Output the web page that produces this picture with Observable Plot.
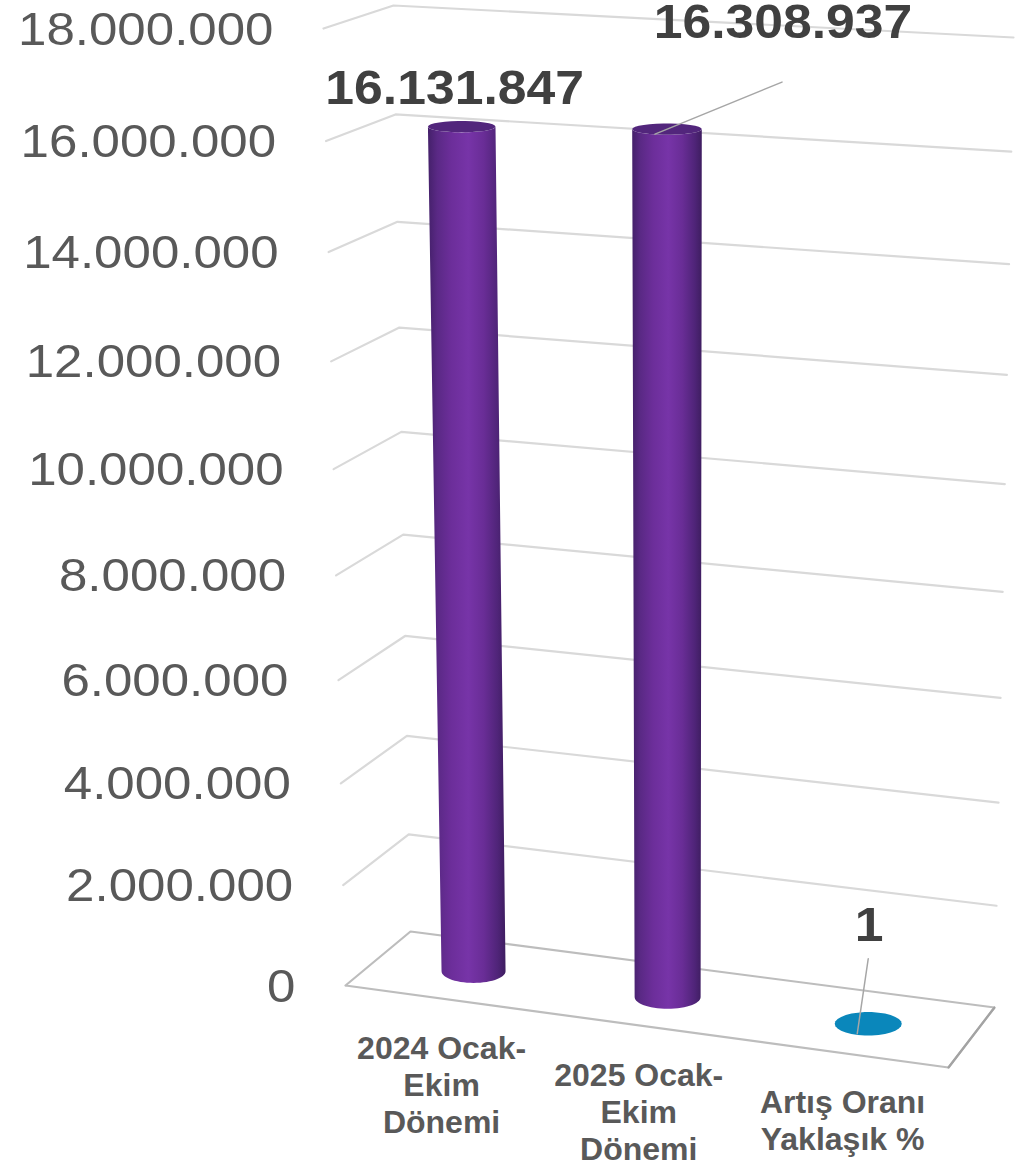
<!DOCTYPE html>
<html>
<head>
<meta charset="utf-8">
<script src="https://cdn.jsdelivr.net/npm/d3@7"></script>
<script src="https://cdn.jsdelivr.net/npm/@observablehq/plot@0.6"></script>
<style>
html,body{margin:0;padding:0;background:#fff}
svg{display:block}
</style>
</head>
<body>
<div id="chart"></div>
<script>
// --- data ---
const categories = ["2024 Ocak-\nEkim\nDönemi", "2025 Ocak-\nEkim\nDönemi", "Artış Oranı\nYaklaşık %"];
const values = [16131847, 16308937, 1];
const tickValues = [0, 2000000, 4000000, 6000000, 8000000, 10000000, 12000000, 14000000, 16000000, 18000000];

// --- layout of the tilted 3D box (pixel corners at value 0 and at the axis maximum) ---
const W = 1024, H = 1163, maxValue = 18000000, persp = 0.9375;
const floor = {fl: [345, 985], bl: [410, 931], br: [994, 1007], fr: [948, 1067]};
const ceil  = {fl: [323, 28],  bl: [393, 5],   br: [1013, 37],  fr: [967, 62]};
const lerp = (a, b, k) => [a[0] + (b[0] - a[0]) * k, a[1] + (b[1] - a[1]) * k];
const plane = (c, u, d) => lerp(lerp(c.fl, c.fr, u), lerp(c.bl, c.br, u), d);
const lift = v => { const t = v / maxValue; return t * persp / (1 + t * (persp - 1)); };
const project = (u, d, v) => lerp(plane(floor, u, d), plane(ceil, u, d), lift(v));
const uOf = d3.scaleOrdinal(categories, [0.161, 0.488, 0.826]);

const fmt = d3.formatLocale({decimal: ",", thousands: ".", grouping: [3], currency: ["", ""]}).format(",d");

// gridlines
const gridRows = tickValues.flatMap(v => [[0, 0], [0, 1], [1, 1]].map(([u, d]) => {
  const [x, y] = project(u, d, v); return {v, x, y};
}));
const floorRing = [[0, 0], [0, 1], [1, 1], [1, 0], [0, 0]].map(([u, d]) => {
  const [x, y] = project(u, d, 0); return {x, y};
});
const floorRight = floorRing.slice(2, 4);

// cylinders
const rxBase = [32, 33, 33.5];
const ryAt = f => 11.7 - 6.7 * f;
const arc = (c, rx, ry, a0, a1) => d3.range(0, 31).map(i => {
  const a = (a0 + (a1 - a0) * i / 30) * Math.PI / 180;
  return {x: c[0] + rx * Math.cos(a), y: c[1] + ry * Math.sin(a)};
});
const cyl = categories.map((cat, i) => {
  const u = uOf(cat), base = project(u, 0.5, 0), top = project(u, 0.5, values[i]), f = lift(values[i]);
  const rxT = rxBase[i] + 2 * f;
  return {
    i, cat, value: values[i], base, top,
    body: [...arc(base, rxBase[i], ryAt(0), 180, 0), ...arc(top, rxT, ryAt(f), 0, 180)],
    cap: arc(top, rxT, ryAt(f), 0, 360)
  };
});
const columns = cyl.filter(c => c.value > 1000);
const flats = cyl.filter(c => c.value <= 1000);

// data labels and leader lines (placement offsets from the top of each column)
const labelOffset = [[-7, -23], [116, -91], [1, -83]];
const leaderFrom = [null, [-12, 5], [-11, 10]];
const leaderTo = [null, [115, -47], [0, -65]];
const labelRows = cyl.map(c => ({text: fmt(c.value), x: c.top[0] + labelOffset[c.i][0], y: c.top[1] + labelOffset[c.i][1]}));
const leaderRows = cyl.filter(c => leaderFrom[c.i]).flatMap(c => [
  {k: c.i, x: c.top[0] + leaderFrom[c.i][0], y: c.top[1] + leaderFrom[c.i][1]},
  {k: c.i, x: c.top[0] + leaderTo[c.i][0], y: c.top[1] + leaderTo[c.i][1]}
]);

const stretch = k => (index, scales, vals, dims, ctx, next) => {
  const g = next(index, scales, vals, dims, ctx);
  d3.select(g).selectAll("text").attr("transform", function () {
    return (this.getAttribute("transform") || "") + ` scale(${k},1)`;
  });
  return g;
};

const defs = () => {
  const d = d3.create("svg:defs");
  const g = d.append("linearGradient").attr("id", "cylBody");
  [[0, "#44206a"], [0.12, "#5a2985"], [0.3, "#6c2e9a"], [0.52, "#7734a8"], [0.72, "#692d96"], [0.9, "#4f2478"], [1, "#3e1d60"]]
    .forEach(([o, c]) => g.append("stop").attr("offset", o).attr("stop-color", c));
  return d.node();
};

const font = "Liberation Sans, Arial, sans-serif";

const chart = Plot.plot({
  width: W, height: H,
  margin: 0,
  x: {domain: [0, W], range: [0, W], axis: null},
  y: {domain: [0, H], range: [0, H], axis: null},
  marks: [
    defs,
    Plot.line(gridRows.filter(r => r.v > 0), {x: "x", y: "y", z: "v", stroke: "#d9d9d9", strokeWidth: 2.2, strokeLinejoin: "miter"}),
    Plot.line(floorRing, {x: "x", y: "y", stroke: "#bdbdbd", strokeWidth: 2.2, strokeLinejoin: "miter"}),
    Plot.line(floorRight, {x: "x", y: "y", stroke: "#a3a3a3", strokeWidth: 2.2}),
    ...columns.flatMap(c => [
      Plot.line(c.body, {x: "x", y: "y", fill: "url(#cylBody)", stroke: "none", curve: "linear"}),
      Plot.line(c.cap, {x: "x", y: "y", fill: "#52267c", stroke: "none", curve: "linear"})
    ]),
    ...flats.map(c => Plot.line(c.cap, {x: "x", y: "y", fill: "#0a87bb", stroke: "none", curve: "linear"})),
    Plot.line(leaderRows, {x: "x", y: "y", z: "k", stroke: "#a6a6a6", strokeWidth: 1.5}),
    Plot.text(tickValues, {
      x: v => project(0, 0, v)[0] - 50,
      y: v => project(0, 0, v)[1] + 16,
      text: v => fmt(v),
      textAnchor: "end", lineAnchor: "bottom",
      fontFamily: font, fontSize: 46, fill: "#595959",
      render: stretch(1.11)
    }),
    Plot.text(labelRows, {
      x: "x", y: "y", text: "text",
      textAnchor: "middle", lineAnchor: "bottom",
      fontFamily: font, fontSize: 49, fontWeight: "bold", fill: "#404040",
      render: stretch(1.055)
    }),
    Plot.text(categories, {
      x: d => project(uOf(d), 0, 0)[0] - 1,
      y: d => project(uOf(d), 0, 0)[1] + 34,
      text: d => d,
      textAnchor: "middle", lineAnchor: "top", lineHeight: 1.156,
      fontFamily: font, fontSize: 32, fontWeight: "bold", fill: "#595959"
    })
  ]
});
document.getElementById("chart").appendChild(chart);
</script>
</body>
</html>
